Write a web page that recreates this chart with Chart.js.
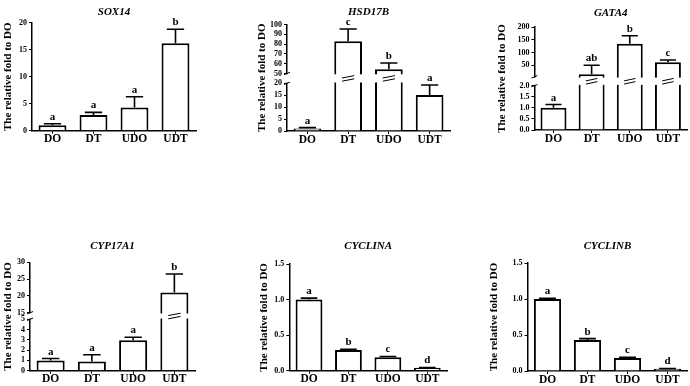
<!DOCTYPE html>
<html lang="en">
<head>
<meta charset="UTF-8">
<title>Relative fold to DO</title>
<script src="https://cdn.jsdelivr.net/npm/chart.js@4.4.0/dist/chart.umd.min.js"></script>
<style>
  body { margin: 0; background: #fff; }
  #wrap { position: relative; width: 690px; height: 386px; overflow: hidden; }
  #wrap canvas { position: absolute; }
</style>
</head>
<body>
<div id="wrap"></div>
<script>
// groups on the x axis
const groups = ['DO', 'DT', 'UDO', 'UDT'];

// mean, SEM and significance letter per group
const sox14Mean = [1.0, 2.9, 4.3, 16.2];
const sox14Sem = [0.3, 0.5, 2.0, 2.6];
const sox14Sig = ['a', 'a', 'a', 'b'];

const hsd17bMean = [1.1, 82.9, 54.3, 15.1];
const hsd17bSem = [0.3, 12.5, 6.4, 4.2];
const hsd17bSig = ['a', 'c', 'b', 'a'];

const gata4Mean = [1.0, 15, 134, 62];
const gata4Sem = [0.15, 35, 32, 9];
const gata4Sig = ['a', 'ab', 'b', 'c'];

const cyp17a1Mean = [1.0, 0.9, 2.95, 21];
const cyp17a1Sem = [0.18, 0.65, 0.3, 5.5];
const cyp17a1Sig = ['a', 'a', 'a', 'b'];

const cyclinaMean = [1.0, 0.29, 0.19, 0.04];
const cyclinaSem = [0.02, 0.01, 0.01, 0.005];
const cyclinaSig = ['a', 'b', 'c', 'd'];

const cyclinbMean = [1.0, 0.43, 0.18, 0.03];
const cyclinbSem = [0.01, 0.02, 0.01, 0.005];
const cyclinbSig = ['a', 'b', 'c', 'd'];

// y tick labels, one list per axis segment (bottom segment first)
const sox14Ticks = [['0', '5', '10', '15', '20']];
const hsd17bTicks = [['0', '5', '10', '15', '20'], ['50', '60', '70', '80', '90', '100']];
const gata4Ticks = [['0.0', '0.5', '1.0', '1.5', '2.0'], ['50', '100', '150', '200']];
const cyp17a1Ticks = [['0', '1', '2', '3', '4', '5'], ['15', '20', '25', '30']];
const cyclinaTicks = [['0.0', '0.5', '1.0', '1.5']];
const cyclinbTicks = [['0.0', '0.5', '1.0', '1.5']];

const serif = '"Liberation Serif", "Times New Roman", serif';

// box = canvas rect, area = [left, right, top, bottom] of plot area
const panels = [
  { id: 'sox14', title: 'SOX14', mean: sox14Mean, sem: sox14Sem, sig: sox14Sig, ticks: sox14Ticks,
    ranges: [[0, 20]], heights: [1], gap: 0,
    box: [0, 0, 230, 150], area: [32, 196, 22.7, 130.7], titleY: 12, yTitleX: 8.5 },
  { id: 'hsd17b', title: 'HSD17B', mean: hsd17bMean, sem: hsd17bSem, sig: hsd17bSig, ticks: hsd17bTicks,
    ranges: [[0, 20], [50, 100]], heights: [47.7, 49], gap: 9.8,
    box: [230, 0, 230, 150], area: [287, 450, 24.5, 131], titleY: 12, yTitleX: 262.5 },
  { id: 'gata4', title: 'GATA4', mean: gata4Mean, sem: gata4Sem, sig: gata4Sig, ticks: gata4Ticks,
    ranges: [[0, 2], [5, 200]], heights: [44.3, 49.8], gap: 8.9,
    box: [460, 0, 230, 150], area: [534.4, 687, 27, 130], titleY: 13, yTitleX: 502.5 },
  { id: 'cyp17a1', title: 'CYP17A1', mean: cyp17a1Mean, sem: cyp17a1Sem, sig: cyp17a1Sig, ticks: cyp17a1Ticks,
    ranges: [[0, 5], [15, 30]], heights: [51.4, 50.4], gap: 6.6,
    box: [0, 232, 230, 154], area: [30, 195, 262.3, 370.7], titleY: 246, yTitleX: 8.5 },
  { id: 'cyclina', title: 'CYCLINA', mean: cyclinaMean, sem: cyclinaSem, sig: cyclinaSig, ticks: cyclinaTicks,
    ranges: [[0, 1.5]], heights: [1], gap: 0,
    box: [230, 232, 230, 154], area: [289.3, 447, 264, 370.7], titleY: 246, yTitleX: 264.5 },
  { id: 'cyclinb', title: 'CYCLINB', mean: cyclinbMean, sem: cyclinbSem, sig: cyclinbSig, ticks: cyclinbTicks,
    ranges: [[0, 1.5]], heights: [1], gap: 0,
    box: [460, 232, 230, 154], area: [527.5, 687.5, 263, 371], titleY: 246, yTitleX: 494.5 }
];
const specs = {};
panels.forEach(p => { specs[p.id] = p; });

// linear axis split into segments with a gap between them (broken y axis)
class BrokenScale extends Chart.LinearScale {
  spec() { return specs[this.chart.canvas.id]; }
  determineDataLimits() {
    const r = this.spec().ranges;
    this.min = r[0][0];
    this.max = r[r.length - 1][1];
  }
  buildTicks() {
    const out = [];
    this.spec().ticks.forEach(list => list.forEach(t => out.push({ value: parseFloat(t), lbl: t })));
    return out;
  }
  bands() {
    const p = this.spec();
    const total = p.heights.reduce((a, b) => a + b, 0);
    const avail = (this.bottom - this.top) - p.gap * (p.ranges.length - 1);
    let y = this.bottom;
    return p.ranges.map((r, i) => {
      const h = avail * p.heights[i] / total;
      const b = { min: r[0], max: r[1], bottom: y, top: y - h };
      y -= h + p.gap;
      return b;
    });
  }
  getPixelForValue(v) {
    const bands = this.bands();
    for (let i = 0; i < bands.length; i++) {
      const b = bands[i];
      if (v <= b.max || i === bands.length - 1) {
        if (v < b.min && i > 0) {
          const q = bands[i - 1];
          return q.top - (v - q.max) / (b.min - q.max) * (q.top - b.bottom);
        }
        return b.bottom - (v - b.min) / (b.max - b.min) * (b.bottom - b.top);
      }
    }
    return this.bottom;
  }
  getValueForPixel(px) {
    const bands = this.bands();
    for (const b of bands) {
      if (px >= b.top) return b.min + (b.bottom - px) / (b.bottom - b.top) * (b.max - b.min);
    }
    return this.max;
  }
}
BrokenScale.id = 'broken';
Chart.register(BrokenScale);

// break marks, error bars and letters
const markPlugin = {
  id: 'marks',
  afterDatasetsDraw(chart) {
    const p = specs[chart.canvas.id];
    const ctx = chart.ctx;
    const ys = chart.scales.y;
    const area = chart.chartArea;
    const bars = chart.getDatasetMeta(0).data;
    const bands = ys.bands();
    ctx.save();
    ctx.strokeStyle = '#000';
    for (let i = 0; i < bands.length - 1; i++) {
      const y0 = bands[i].top, y1 = bands[i + 1].bottom;
      ctx.fillStyle = '#fff';
      ctx.fillRect(area.left - 2, y1 + 0.8, area.right - area.left + 4, y0 - y1 - 1.6);
      ctx.lineWidth = 1;
      [y0, y1].forEach(y => {
        ctx.beginPath();
        ctx.moveTo(area.left - 3, y + 1.2);
        ctx.lineTo(area.left + 3, y - 1.2);
        ctx.stroke();
      });
      const ym = (y0 + y1) / 2;
      bars.forEach((bar, j) => {
        if (p.mean[j] <= bands[i].max) return;
        const hw = bar.width * 0.22;
        [-1.6, 1.6].forEach(o => {
          ctx.beginPath();
          ctx.moveTo(bar.x - hw, ym + o + 1.2);
          ctx.lineTo(bar.x + hw, ym + o - 1.2);
          ctx.stroke();
        });
      });
    }
    ctx.fillStyle = '#000';
    ctx.font = 'bold 11px ' + serif;
    ctx.textAlign = 'center';
    ctx.textBaseline = 'alphabetic';
    bars.forEach((bar, j) => {
      const top = ys.getPixelForValue(p.mean[j] + p.sem[j]);
      const cap = bar.width * 0.31;
      ctx.lineWidth = 1.6;
      ctx.beginPath();
      ctx.moveTo(bar.x, bar.y);
      ctx.lineTo(bar.x, top);
      ctx.moveTo(bar.x - cap, top);
      ctx.lineTo(bar.x + cap, top);
      ctx.stroke();
      ctx.fillText(p.sig[j], bar.x, top - 4);
    });
    ctx.restore();
  }
};

const wrap = document.getElementById('wrap');
panels.forEach(p => {
  const [bx, by, bw, bh] = p.box;
  const [L, R, T, B] = p.area;
  const cv = document.createElement('canvas');
  cv.id = p.id;
  cv.width = bw;
  cv.height = bh;
  cv.style.left = bx + 'px';
  cv.style.top = by + 'px';
  wrap.appendChild(cv);

  new Chart(cv, {
    type: 'bar',
    data: {
      labels: groups,
      datasets: [{
        data: p.mean,
        backgroundColor: '#fff',
        borderColor: '#000',
        borderWidth: 2,
        barPercentage: 0.68,
        categoryPercentage: 1
      }]
    },
    options: {
      responsive: false,
      animation: false,
      events: [],
      layout: { padding: { left: 0, top: 0, bottom: 0, right: bx + bw - R } },
      plugins: {
        legend: { display: false },
        tooltip: { enabled: false },
        title: {
          display: true,
          fullSize: false,
          text: p.title,
          color: '#000',
          font: { family: serif, size: 11, style: 'italic', weight: 'bold', lineHeight: 1.2 },
          padding: { top: p.titleY - by - 6.6, bottom: T - p.titleY - 6.6 }
        }
      },
      scales: {
        x: {
          grid: { display: true, drawOnChartArea: false, drawTicks: true, tickLength: 3, offset: false, color: '#000', lineWidth: 1 },
          border: { display: true, color: '#000', width: 1.5 },
          ticks: { color: '#000', padding: 0, font: { family: serif, size: 11.5, weight: 'bold', lineHeight: 1 } },
          afterFit: s => { s.height = by + bh - B; }
        },
        y: {
          type: 'broken',
          position: 'left',
          grid: { display: true, drawOnChartArea: false, drawTicks: true, tickLength: 3, color: '#000', lineWidth: 1 },
          border: { display: true, color: '#000', width: 1.5 },
          ticks: {
            color: '#000',
            padding: 2,
            autoSkip: false,
            font: { family: serif, size: 8, weight: 'bold' },
            callback: (v, i, t) => t[i].lbl
          },
          title: {
            display: true,
            text: 'The relative fold to DO',
            color: '#000',
            font: { family: serif, size: 11, weight: 'bold', lineHeight: 1.2 },
            padding: { top: p.yTitleX - bx - 6.6, bottom: 0 }
          },
          afterFit: s => { s.width = L - bx; }
        }
      }
    },
    plugins: [markPlugin]
  });
});
</script>
</body>
</html>
